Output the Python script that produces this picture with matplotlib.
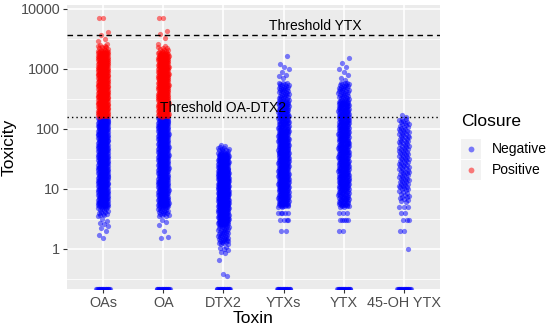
import numpy as np
import matplotlib
matplotlib.use("Agg")
import matplotlib.pyplot as plt
from matplotlib.patches import Rectangle
from matplotlib.lines import Line2D

plt.rcParams['font.family'] = ['Liberation Sans', 'DejaVu Sans']

# ---------------- data ----------------
toxins = ["OAs", "OA", "DTX2", "YTXs", "YTX", "45-OH YTX"]
closure_threshold = [160, 160, 160, 3750, 3750, 3750]
threshold_ytx = 3750
threshold_oa_dtx2 = 160
y_ticks = [1, 10, 100, 1000, 10000]
y_tick_labels = ["1", "10", "100", "1000", "10000"]

# dense part of each column: bin edges (toxicity) and estimated number of samples per bin
oas_edges = [3.5, 5, 7, 20, 60, 160, 400, 1000, 2000, 2600]
oas_counts = [15, 40, 110, 120, 110, 120, 120, 90, 12]
oas_singles = [1.5, 1.7, 2.0, 2.2, 2.4, 2.6, 2.7, 2.9, 3.2, 2900, 3200, 3700, 4200, 7000, 7200]

oa_edges = [3.5, 5, 7, 20, 60, 160, 400, 1000, 1900, 2400]
oa_counts = [20, 40, 110, 120, 110, 120, 120, 80, 10]
oa_singles = [1.5, 1.6, 2.0, 2.5, 2.8, 3.1, 2600, 3300, 3800, 4300, 7000, 7200]

dtx2_edges = [1.2, 2.5, 5, 10, 20, 40, 50]
dtx2_counts = [45, 90, 120, 120, 90, 10]
dtx2_singles = [0.35, 0.38, 0.65, 0.85, 0.9, 0.95, 1.0, 1.05, 1.1, 45, 48, 52, 54]

ytxs_edges = [5, 10, 30, 100, 300, 600]
ytxs_counts = [70, 120, 130, 100, 40]
ytxs_singles = [2, 2, 3, 3, 3, 3, 4, 4, 4, 4, 4, 700, 750, 800, 900, 1000, 1100, 1200, 1650]

ytx_edges = [5, 10, 30, 100, 300, 600]
ytx_counts = [60, 110, 120, 110, 40]
ytx_singles = [2, 2, 3, 3, 3, 3, 3, 4, 4, 4, 650, 700, 800, 900, 1000, 1100, 1250, 1500]

oh45_edges = [6, 10, 30, 100, 150]
oh45_counts = [15, 45, 50, 15]
oh45_singles = [1, 2, 2, 3, 3, 3, 4, 4, 5, 5, 5, 160, 170]

zero_counts = [20, 20, 20, 20, 20, 20]

all_edges = [oas_edges, oa_edges, dtx2_edges, ytxs_edges, ytx_edges, oh45_edges]
all_counts = [oas_counts, oa_counts, dtx2_counts, ytxs_counts, ytx_counts, oh45_counts]
all_singles = [oas_singles, oa_singles, dtx2_singles, ytxs_singles, ytx_singles, oh45_singles]

# ---------------- helpers ----------------
def expand(edges, counts, singles):
    vals = []
    for lo, hi, n in zip(edges[:-1], edges[1:], counts):
        for k in range(n):
            vals.append(lo * (hi / lo) ** ((k + 0.5) / n))
    vals.extend(singles)
    return np.array(vals, dtype=float)

def jitter(n, width, phase):
    return ((np.arange(n) * 0.6180339887 + phase) % 1.0 - 0.5) * 2 * width

# ---------------- figure ----------------
W, H = 550, 329
fig = plt.figure(figsize=(W / 100, H / 100), dpi=100)
left, right, top, bottom = 67, 440, 5.4, 288.6
ax = fig.add_axes([left / W, 1 - bottom / H, (right - left) / W, (bottom - top) / H])
ax.set_facecolor("#EBEBEB")
for s in ax.spines.values():
    s.set_visible(False)

ax.set_yscale("log")
ylo, yhi = 10 ** -0.66, 10 ** 4.06
ax.set_ylim(ylo, yhi)
ax.set_xlim(0.4, len(toxins) + 0.6)

# grid
for v in [10 ** (e + 0.5) for e in range(-1, 4)]:
    ax.axhline(v, color="white", lw=0.6, zorder=0)
for v in y_ticks:
    ax.axhline(v, color="white", lw=1.2, zorder=0)
for i in range(len(toxins)):
    ax.axvline(i + 1, color="white", lw=1.2, zorder=0)

blue = "#0000FF"
red = "#FF0000"
jw = 0.09
ms = 14
for i, name in enumerate(toxins):
    vals = expand(all_edges[i], all_counts[i], all_singles[i])
    xs = (i + 1) + jitter(len(vals), jw, 0.13 * i)
    pos = vals >= closure_threshold[i]
    ax.scatter(xs[~pos], vals[~pos], s=ms, color=blue, alpha=0.5, lw=0, zorder=2)
    ax.scatter(xs[pos], vals[pos], s=ms, color=red, alpha=0.5, lw=0, zorder=2)
    nz = zero_counts[i]
    zx = (i + 1) + np.linspace(-0.11, 0.11, nz)
    ax.scatter(zx, np.full(nz, ylo), s=ms, color=blue, alpha=0.5, lw=0, zorder=2)

ax.axhline(threshold_ytx, color="black", lw=1.0, ls=(0, (4, 3)), zorder=3)
ax.axhline(threshold_oa_dtx2, color="black", lw=1.0, ls=(0, (1, 2.2)), zorder=3)
ax.text(4.53, 5300, "Threshold YTX", ha="center", va="center", fontsize=10, color="black", zorder=4)
ax.text(3.0, 225, "Threshold OA-DTX2", ha="center", va="center", fontsize=10, color="black", zorder=4)

ax.set_xticks(range(1, len(toxins) + 1))
ax.set_xticklabels(toxins)
ax.set_yticks(y_ticks)
ax.set_yticklabels(y_tick_labels)
ax.yaxis.set_minor_locator(matplotlib.ticker.NullLocator())
ax.tick_params(axis="both", colors="#333333", labelcolor="#4D4D4D", labelsize=10.4, length=3, width=0.8, pad=2)
ax.set_xlabel("Toxin", fontsize=12.5, labelpad=1)
ax.set_ylabel("Toxicity", fontsize=12.5)
ax.yaxis.set_label_coords((17 - left) / (right - left), 0.5)

# legend (ggplot style, drawn manually in pixel coords)
def fx(px):
    return px / W
def fy(py):
    return 1 - py / H

fig.text(fx(461), fy(122), "Closure", fontsize=12.5, ha="left", va="center")
for j, (lab, col) in enumerate([("Negative", blue), ("Positive", red)]):
    cy = 149 + j * 21
    fig.patches.append(Rectangle((fx(461), fy(cy + 10)), 20 / W, 20 / H, transform=fig.transFigure,
                                 facecolor="#F2F2F2", edgecolor="none"))
    fig.add_artist(Line2D([fx(471)], [fy(cy)], marker="o", markersize=4.2, color=col, alpha=0.5,
                          markeredgewidth=0, transform=fig.transFigure))
    fig.text(fx(492), fy(cy), lab, fontsize=10, ha="left", va="center")

fig.savefig("out.png", dpi=100)
